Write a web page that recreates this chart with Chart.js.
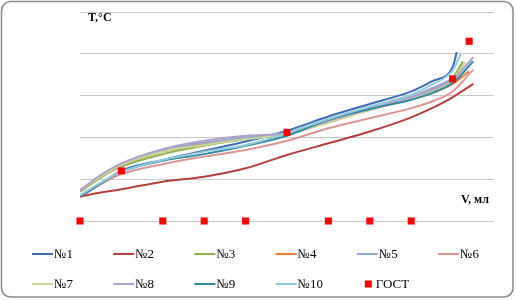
<!DOCTYPE html>
<html lang="ru">
<head>
<meta charset="UTF-8">
<title>Фракционный состав</title>
<script src="https://cdn.jsdelivr.net/npm/chart.js"></script>
<style>
  body { margin: 0; background: #fff; }
  #wrap { width: 516px; height: 300px; position: relative; }
</style>
</head>
<body>
<div id="wrap"><canvas id="distChart"></canvas></div>
<script>
// объём отгона, мл (общие точки для всех образцов)
const vol = [0, 5, 10, 20, 30, 40, 50, 60, 70, 80, 85, 90];

// температура, °C, по образцам
const t1  = [29, 44, 60, 73, 84, 95, 108, 125, 140, 155, 167, 184];
const t2  = [29, 34, 38, 47, 53, 63, 79, 93, 107, 124, 135, 148];
const t3  = [35, 52, 65, 80, 90, 98, 105, 120, 134, 148, 157, 171];
const t4  = [36, 53, 67, 83, 92, 99, 104, 118, 133, 146, 153, 164];
const t5  = [36, 54, 68, 85, 94, 100, 106, 121, 135, 149, 159, 171];
const t6  = [30, 44, 56, 68, 77, 85, 96, 111, 123, 135, 143, 155];
const t7  = [37, 53, 67, 83, 91, 98, 104, 118, 133, 147, 155, 169];
const t8  = [37, 55, 69, 86, 96, 102, 105, 120, 134, 148, 157, 169];
const t9  = [30, 45, 59, 72, 80, 90, 102, 121, 134, 145, 153, 165];
const t10 = [31, 46, 59, 73, 83, 91, 105, 122, 137, 151, 163, 180];

// конец кипения каждого образца
const endV = [91, 95, 92.5, 94, 94.5, 95, 93, 95, 95, 92];
const endT = [202, 164, 191, 179, 192, 181, 190, 196, 191, 200];

// нормы ГОСТ
const gostV = [0, 10, 20, 30, 40, 50, 60, 70, 80, 90, 94];
const gostT = [0, 60, 0, 0, 0, 106, 0, 0, 0, 170, 215];

const names  = ['№1', '№2', '№3', '№4', '№5', '№6', '№7', '№8', '№9', '№10'];
const colors = ['#3f6db3', '#b3403d', '#8db04c', '#ee7d2f', '#8ea9db',
                '#da9694', '#c4d79b', '#b1a0c7', '#2f8aa3', '#92cddc'];

const temps = [t1, t2, t3, t4, t5, t6, t7, t8, t9, t10];

const lineSets = temps.map((t, i) => {
    const pts = vol.map((v, k) => ({ x: v, y: t[k] }));
    pts.push({ x: endV[i], y: endT[i] });
    return {
        label: names[i],
        data: pts,
        showLine: true,
        borderColor: colors[i],
        backgroundColor: colors[i],
        borderWidth: 2,
        pointRadius: 0,
        cubicInterpolationMode: 'monotone',
        order: 11 - i
    };
});

const gostSet = {
    label: 'ГОСТ',
    data: gostV.map((v, k) => ({ x: v, y: gostT[k] })),
    showLine: false,
    pointStyle: 'rect',
    pointRadius: 5,
    pointBorderWidth: 0,
    backgroundColor: '#ff0000',
    borderColor: '#ff0000',
    clip: false,
    order: 0
};

// рамка, подписи осей и легенда в стиле Excel
const decor = {
    id: 'decor',
    beforeDraw(chart) {
        const ctx = chart.ctx;
        ctx.save();
        ctx.fillStyle = '#fff';
        ctx.fillRect(0, 0, chart.width, chart.height);
        ctx.restore();
    },
    afterDraw(chart) {
        const ctx = chart.ctx;
        ctx.save();
        ctx.strokeStyle = '#8a8a8a';
        ctx.lineWidth = 1.5;
        ctx.beginPath();
        ctx.roundRect(1.5, 1.5, 511.5, 295.5, 9);
        ctx.stroke();

        ctx.fillStyle = '#000';
        ctx.font = 'bold 12px "Liberation Serif"';
        ctx.textBaseline = 'alphabetic';
        ctx.fillText('T,°C', 88, 21);
        ctx.fillText('V, мл', 461, 203);

        ctx.font = '13px "Liberation Serif"';
        ctx.textBaseline = 'middle';
        const items = names.concat(['ГОСТ']);
        items.forEach((name, i) => {
            const row = i < 6 ? 0 : 1;
            const col = i < 6 ? i : i - 6;
            const x = 32 + 81.2 * col;
            const y = row === 0 ? 254 : 284;
            if (i < 10) {
                ctx.strokeStyle = colors[i];
                ctx.lineWidth = 2;
                ctx.beginPath();
                ctx.moveTo(x, y);
                ctx.lineTo(x + 21, y);
                ctx.stroke();
                ctx.fillStyle = '#000';
                ctx.fillText(name, x + 22, y + 1);
            } else {
                ctx.fillStyle = '#ff0000';
                ctx.fillRect(x + 8, y - 3.5, 7, 7);
                ctx.fillStyle = '#000';
                ctx.fillText(name, x + 19, y + 1);
            }
        });
        ctx.restore();
    }
};

new Chart(document.getElementById('distChart'), {
    type: 'scatter',
    data: { datasets: [gostSet].concat(lineSets) },
    options: {
        responsive: true,
        maintainAspectRatio: false,
        animation: false,
        layout: { padding: { left: 80, right: 22, top: 12, bottom: 79 } },
        plugins: {
            legend: { display: false },
            tooltip: { enabled: false }
        },
        scales: {
            x: {
                type: 'linear',
                min: 0,
                max: 100,
                display: false
            },
            y: {
                min: 0,
                max: 250,
                ticks: { display: false, stepSize: 50 },
                grid: { color: '#c8c8c8', lineWidth: 1, drawTicks: false },
                border: { display: false }
            }
        }
    },
    plugins: [decor]
});
</script>
</body>
</html>
